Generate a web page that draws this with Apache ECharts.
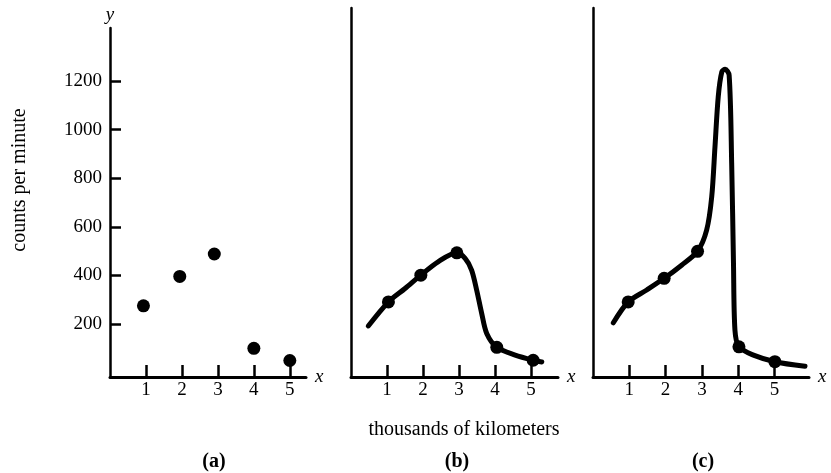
<!DOCTYPE html>
<html>
<head>
<meta charset="utf-8">
<script src="https://cdn.jsdelivr.net/npm/echarts@6/dist/echarts.min.js"></script>
<style>
html, body { margin: 0; background: #fff; }
#chart { width: 831px; height: 473px; }
</style>
</head>
<body>
<div id="chart"></div>
<script>
// tick values
var xTicks = [1, 2, 3, 4, 5];
var yTicks = [200, 400, 600, 800, 1000, 1200];

// (a) measured counts
var pointsA = [[0.93, 275], [1.94, 396], [2.9, 488], [4.0, 100], [5.0, 50]];

// (b) smooth curve through the points
var curveB = [[0.48, 192], [1.04, 291], [1.5, 346], [1.94, 401], [2.42, 456], [2.94, 493],
    [3.17, 470], [3.35, 422], [3.49, 340], [3.63, 244], [3.77, 161], [4.05, 104],
    [4.56, 72], [5.06, 51], [5.3, 44]];
var dotsB = [[1.04, 291], [1.94, 401], [2.94, 493], [4.05, 104], [5.06, 51]];

// (c) curve with a sharp peak
var curveC = [[0.56, 205], [0.97, 291], [1.48, 340], [1.96, 388], [2.44, 442], [2.88, 499],
    [3.13, 586], [3.27, 723], [3.36, 929], [3.45, 1135], [3.55, 1238], [3.64, 1248],
    [3.75, 1224], [3.82, 861], [3.87, 449], [3.91, 175], [4.02, 106], [4.42, 72],
    [5.01, 45], [5.84, 26]];
var dotsC = [[0.97, 291], [1.96, 388], [2.88, 499], [4.02, 106], [5.01, 45]];

var serif = 'Liberation Serif';

function xAxisFor(i, max) {
    return {
        type: 'value', gridIndex: i, min: 0, max: max,
        axisLine: { onZero: false, lineStyle: { color: '#000', width: 3 } },
        axisTick: { inside: true, length: 12, customValues: xTicks, lineStyle: { color: '#000', width: 2.5 } },
        axisLabel: { customValues: xTicks, margin: 4, color: '#000', fontFamily: serif, fontSize: 19 },
        splitLine: { show: false },
        name: 'x', nameLocation: 'end', nameGap: 9,
        nameTextStyle: { color: '#000', fontFamily: serif, fontStyle: 'italic', fontSize: 19 }
    };
}

function yAxisFor(i, max, withTicks) {
    return {
        type: 'value', gridIndex: i, min: -18, max: max,
        axisLine: { onZero: false, lineStyle: { color: '#000', width: 2.5 } },
        axisTick: { show: withTicks, inside: true, length: 11, customValues: yTicks, lineStyle: { color: '#000', width: 2.5 } },
        axisLabel: {
            show: withTicks, customValues: yTicks, margin: 8, color: '#000', fontFamily: serif, fontSize: 19,
            formatter: function(v) { return String(v); }
        },
        splitLine: { show: false },
        name: withTicks ? 'y' : '', nameLocation: 'end', nameGap: 4,
        nameTextStyle: { color: '#000', fontFamily: serif, fontStyle: 'italic', fontSize: 19 }
    };
}

var myChart = echarts.init(document.getElementById('chart'));

var dotStyle = { color: '#000', opacity: 1 };
var curveStyle = { color: '#000', width: 5, cap: 'round', join: 'round' };

var option = {
    animation: false,
    backgroundColor: '#fff',
    grid: [
        { left: 110, top: 28, width: 196, height: 349 },
        { left: 351, top: 8, width: 207, height: 369 },
        { left: 593, top: 8, width: 216, height: 369 }
    ],
    xAxis: [xAxisFor(0, 5.45), xAxisFor(1, 5.75), xAxisFor(2, 5.95)],
    yAxis: [yAxisFor(0, 1418, true), yAxisFor(1, 1500, false), yAxisFor(2, 1500, false)],
    series: [{
        type: 'scatter', xAxisIndex: 0, yAxisIndex: 0,
        data: pointsA, symbolSize: 13, itemStyle: dotStyle
    }, {
        type: 'line', xAxisIndex: 1, yAxisIndex: 1,
        data: curveB, smooth: 0.3, showSymbol: false, lineStyle: curveStyle
    }, {
        type: 'scatter', xAxisIndex: 1, yAxisIndex: 1,
        data: dotsB, symbolSize: 13, itemStyle: dotStyle
    }, {
        type: 'line', xAxisIndex: 2, yAxisIndex: 2,
        data: curveC, smooth: 0.3, showSymbol: false, lineStyle: curveStyle
    }, {
        type: 'scatter', xAxisIndex: 2, yAxisIndex: 2,
        data: dotsC, symbolSize: 13, itemStyle: dotStyle
    }],
    graphic: [{
        type: 'text', x: 20, y: 180, rotation: Math.PI / 2,
        style: { text: 'counts per minute', fill: '#000', font: '20px "Liberation Serif"', align: 'center', verticalAlign: 'middle' }
    }, {
        type: 'text', x: 464, y: 430,
        style: { text: 'thousands of kilometers', fill: '#000', font: '20px "Liberation Serif"', align: 'center', verticalAlign: 'middle' }
    }, {
        type: 'text', x: 214, y: 462,
        style: { text: '(a)', fill: '#000', font: 'bold 20px "Liberation Serif"', align: 'center', verticalAlign: 'middle' }
    }, {
        type: 'text', x: 457, y: 462,
        style: { text: '(b)', fill: '#000', font: 'bold 20px "Liberation Serif"', align: 'center', verticalAlign: 'middle' }
    }, {
        type: 'text', x: 703, y: 462,
        style: { text: '(c)', fill: '#000', font: 'bold 20px "Liberation Serif"', align: 'center', verticalAlign: 'middle' }
    }]
};

myChart.setOption(option);
</script>
</body>
</html>
